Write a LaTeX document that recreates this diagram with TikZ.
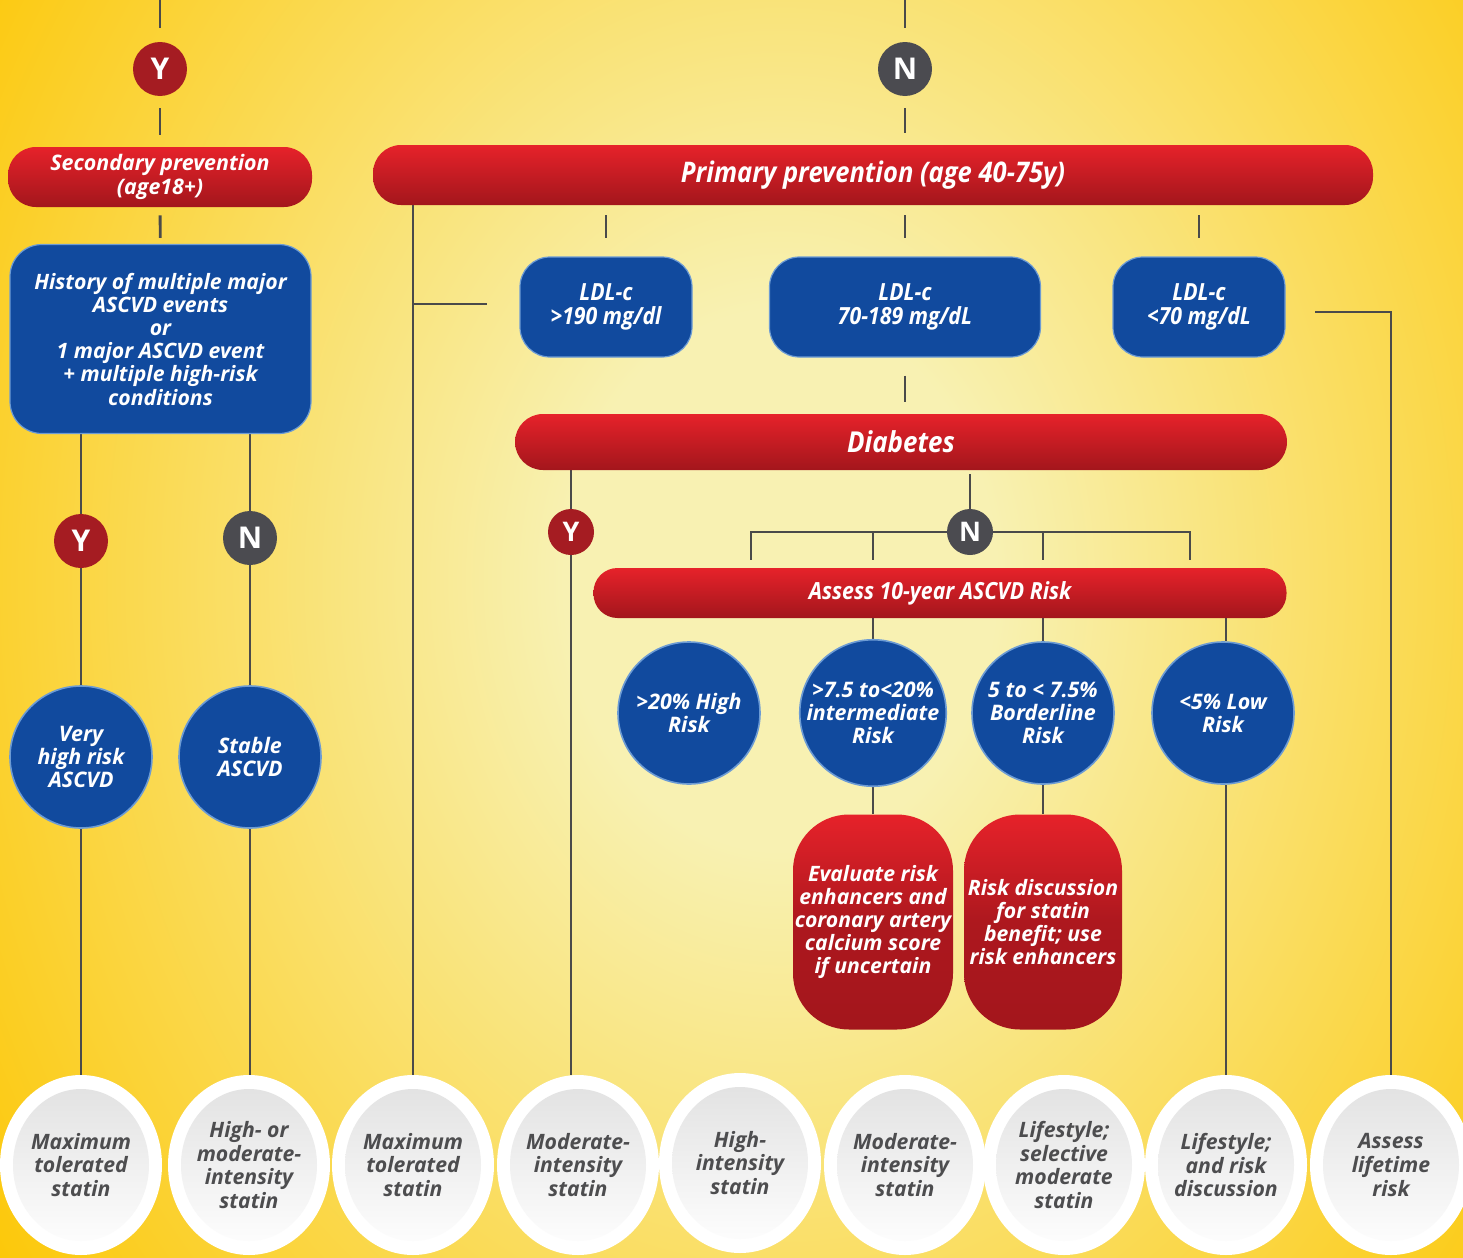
\documentclass[tikz,border=0pt]{standalone}
\usepackage{fontspec}
\setmainfont{Open Sans}
\newfontfamily\condf{Open Sans}[FakeStretch=0.9]
\usetikzlibrary{shapes.geometric,calc}
\definecolor{bgY}{HTML}{FCC80A}
\definecolor{bgL}{HTML}{F8F1B2}
\definecolor{redT}{HTML}{E6222A}
\definecolor{redB}{HTML}{A3161C}
\definecolor{blueF}{HTML}{114A9E}
\definecolor{blueR}{HTML}{6C9BD4}
\definecolor{yesR}{HTML}{A51C22}
\definecolor{noG}{HTML}{4B4B50}
\definecolor{lineC}{HTML}{4A4A4A}
\definecolor{txtG}{HTML}{4D4D4F}
\pgfdeclarelayer{bg}
\pgfdeclarelayer{lines}
\pgfsetlayers{bg,lines,main}
\pgfdeclareradialshading{bgshade}{\pgfpoint{0bp}{0bp}}{color(0bp)=(bgL); color(5bp)=(bgL); color(22bp)=(bgY); color(50bp)=(bgY)}
\begin{document}
\begin{tikzpicture}[x=0.5pt,y=-0.5pt,
  every node/.style={align=center, inner sep=0pt},
  redpill/.style={rectangle, rounded corners=14pt, top color=redT, bottom color=redB, text=white, font=\bfseries\itshape\fontsize{10.7}{11.6}\selectfont},
  bluebox/.style={rectangle, rounded corners=16pt, fill=blueF, draw=blueR, line width=0.6pt, text=white, font=\bfseries\itshape\fontsize{10.6}{11.6}\selectfont},
  bluecirc/.style={circle, minimum size=71pt, fill=blueF, draw=blueR, line width=0.8pt, text=white, font=\bfseries\itshape\fontsize{10.7}{11.6}\selectfont},
  redbox/.style={rectangle, rounded corners=28pt, top color=redT, bottom color=redB, middle color=redB!85!redT, text=white, font=\bfseries\itshape\fontsize{10.6}{11.6}\selectfont},
  ycirc/.style={circle, minimum size=27pt, fill=yesR, text=white, font=\bfseries\fontsize{15}{15}\selectfont},
  ncirc/.style={circle, minimum size=27pt, fill=noG, text=white, font=\bfseries\fontsize{15}{15}\selectfont},
  smallcirc/.style={minimum size=23pt, font=\bfseries\fontsize{13.5}{13.5}\selectfont},
  outcome/.style={ellipse, minimum width=81pt, minimum height=90pt, fill=white, text=txtG,
     font=\bfseries\itshape\fontsize{10.6}{11.8}\selectfont,
     path picture={\shade[top color=gray!24, bottom color=white] (path picture bounding box.center) ellipse [x radius=34pt, y radius=38pt];}},
  conn/.style={draw=lineC, line width=1.4pt}
]
\useasboundingbox (0,0) rectangle (1463,1258);
\begin{pgfonlayer}{bg}
\begin{scope}
\clip (0,0) rectangle (1463,1258);
\fill[bgY] (0,0) rectangle (1463,1258);
\shade[shading=bgshade] (780,580) ellipse [x radius=1080, y radius=1350];
\end{scope}
\end{pgfonlayer}

% top decision circles
\coordinate (t1) at (160,0);
\coordinate (t2) at (905,0);
\node[ycirc] (y1) at (160,69) {Y};
\node[ncirc] (n1) at (905,69) {N};

% prevention pills
\node[redpill, minimum width=152pt, minimum height=30pt] (sec) at (160,177) {Secondary prevention\\(age18+)};
\node[redpill, minimum width=500pt, minimum height=30pt, font=\condf\bfseries\itshape\fontsize{14.2}{16}\selectfont] (pp) at (873,175) {Primary prevention (age 40-75y)};

% secondary branch
\node[bluebox, minimum width=150.5pt, minimum height=94.5pt] (hist) at (160.5,339) {History of multiple major\\ASCVD events\\or\\1 major ASCVD event\\+ multiple high-risk\\conditions};
\node[ycirc] (y2) at (81,541) {Y};
\node[ncirc] (n2) at (250,538) {N};
\node[bluecirc] (vh) at (81,757) {Very\\high risk\\ASCVD};
\node[bluecirc] (st) at (250,757) {Stable\\ASCVD};

% LDL boxes
\node[bluebox, rounded corners=15pt, minimum width=86pt, minimum height=50pt, font=\condf\bfseries\itshape\fontsize{11.8}{12}\selectfont] (l1) at (606,307) {LDL-c\\>190 mg/dl};
\node[bluebox, rounded corners=15pt, minimum width=135.5pt, minimum height=50pt, font=\condf\bfseries\itshape\fontsize{11.8}{12}\selectfont] (l2) at (905,307) {LDL-c\\70-189 mg/dL};
\node[bluebox, rounded corners=15pt, minimum width=86pt, minimum height=50pt, font=\condf\bfseries\itshape\fontsize{11.8}{12}\selectfont] (l3) at (1199,307) {LDL-c\\<70 mg/dL};

% diabetes
\node[redpill, minimum width=386pt, minimum height=28pt, font=\condf\bfseries\itshape\fontsize{14.4}{16}\selectfont] (diab) at (901,442) {Diabetes};
\node[ycirc, smallcirc] (y3) at (571,532) {Y};
\node[ncirc, smallcirc] (n3) at (970,532) {N};
\coordinate (d1) at (751,560);
\coordinate (d2) at (873,560);
\coordinate (d3) at (1043,560);
\coordinate (d4) at (1190,560);
\node[redpill, rounded corners=12pt, minimum width=346.5pt, minimum height=25pt, font=\condf\bfseries\itshape\fontsize{11.8}{13}\selectfont] (assess) at (940,593) {Assess 10-year ASCVD Risk};

% risk circles
\node[bluecirc] (c1) at (689,713) {>20\% High\\Risk};
\node[bluecirc] (c2) at (873,713) {>7.5 to<20\%\\intermediate\\Risk};
\node[bluecirc] (c3) at (1043,713) {5 to < 7.5\%\\Borderline\\Risk};
\node[bluecirc] (c4) at (1223,713) {<5\% Low\\Risk};

\node[redbox, minimum width=80pt, minimum height=107.5pt] (e1) at (873,922) {Evaluate risk\\enhancers and\\coronary artery\\calcium score\\if uncertain};
\node[redbox, minimum width=79pt, minimum height=107.5pt] (e2) at (1043,922) {Risk discussion\\for statin\\benefit; use\\risk enhancers};

% outcomes
\node[outcome] (b1) at (81,1165) {Maximum\\tolerated\\statin};
\node[outcome] (b2) at (249,1165) {High- or\\moderate-\\intensity\\statin};
\node[outcome] (b3) at (413,1165) {Maximum\\tolerated\\statin};
\node[outcome] (b4) at (578,1165) {Moderate-\\intensity\\statin};
\node[outcome] (b5) at (740,1163) {High-\\intensity\\statin};
\node[outcome] (b6) at (905,1165) {Moderate-\\intensity\\statin};
\node[outcome] (b7) at (1064,1165) {Lifestyle;\\selective\\moderate\\statin};
\node[outcome] (b8) at (1226,1165) {Lifestyle;\\and risk\\discussion};
\node[outcome] (b9) at (1391,1165) {Assess\\lifetime\\risk};

\coordinate (sl) at (487,304);
\coordinate (sr) at (1315,312);

\begin{pgfonlayer}{lines}
\draw[conn, shorten >=7pt] (t1) -- (y1);
\draw[conn, shorten >=7pt] (t2) -- (n1);
\draw[conn, shorten <=6pt, shorten >=6pt] (y1) -- (sec);
\draw[conn, shorten <=6pt, shorten >=6pt] (n1) -- (pp.north -| n1);
\draw[conn, shorten <=4pt, shorten >=3pt] (sec) -- (hist);
\draw[conn] (hist.south -| y2) -- (y2) -- (vh) -- (b1);
\draw[conn] (hist.south -| n2) -- (n2) -- (st) -- (b2.north -| st);
\draw[conn] (pp.south -| b3) -- (b3);
\draw[conn] (sl -| b3) -- (sl);
\draw[conn] (sr) -| (b9);
\draw[conn, shorten <=5pt, shorten >=9pt] (pp.south -| l1) -- (l1);
\draw[conn, shorten <=5pt, shorten >=9pt] (pp.south -| l2) -- (l2);
\draw[conn, shorten <=5pt, shorten >=9pt] (pp.south -| l3) -- (l3);
\draw[conn, shorten <=9pt, shorten >=6pt] (l2) -- (diab.north -| l2);
\draw[conn] (diab.south -| y3) -- (y3) -- (b4.north -| y3);
\draw[conn, shorten <=2pt] (diab.south -| n3) -- (n3);
\draw[conn] (n3) -| (d1);
\draw[conn] (n3) -| (d4);
\draw[conn] (d2 |- n3) -- (d2);
\draw[conn] (d3 |- n3) -- (d3);
\draw[conn] (assess.south -| c2) -- (c2) -- (e1);
\draw[conn] (assess.south -| c3) -- (c3) -- (e2);
\draw[conn] (assess.south -| b8) -- (c4.north -| b8);
\draw[conn] (c4.south -| b8) -- (b8);
\end{pgfonlayer}
\end{tikzpicture}
\end{document}
